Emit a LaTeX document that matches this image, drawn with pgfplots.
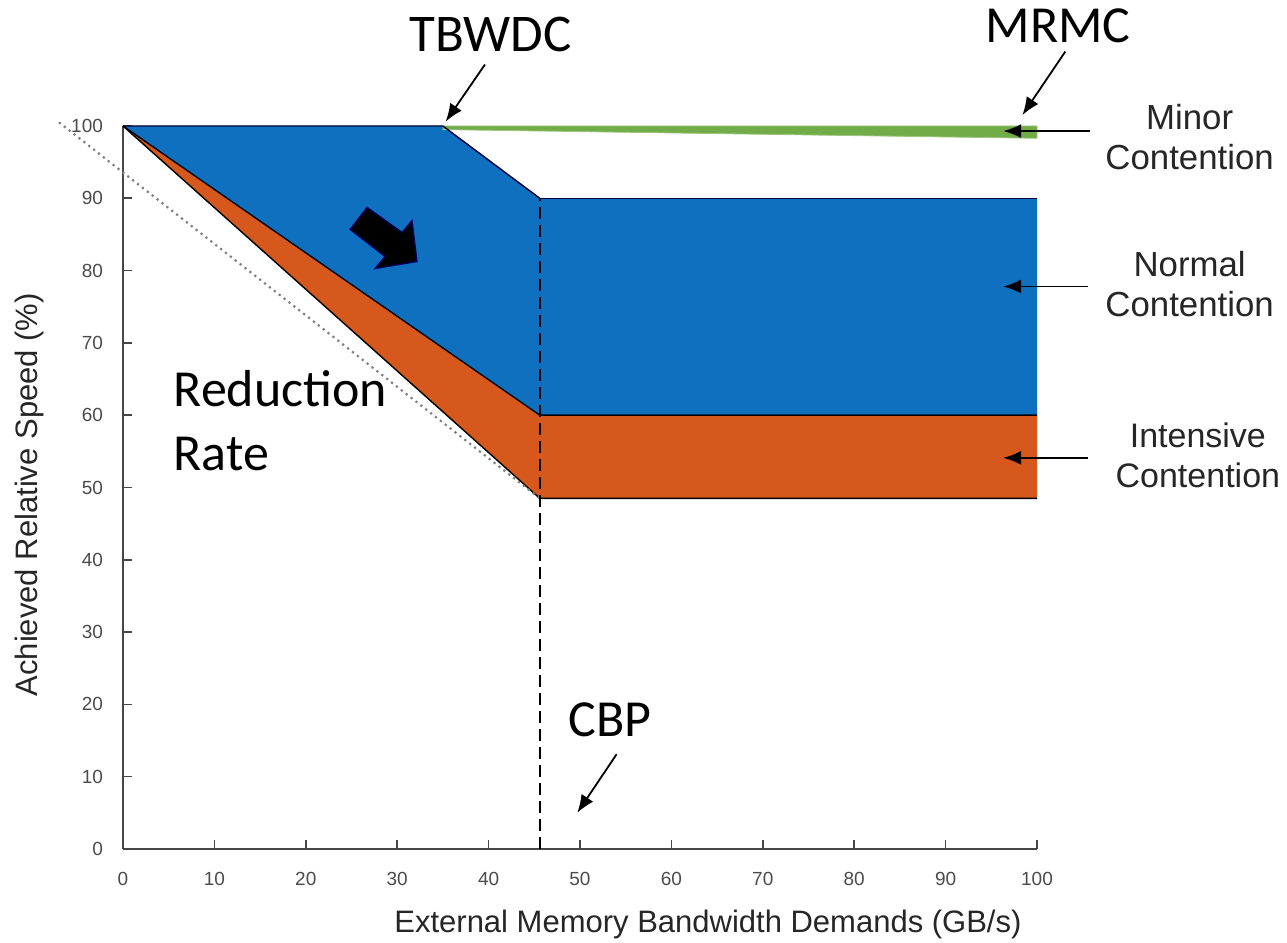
\documentclass[border=0pt]{standalone}
\usepackage{pgfplots}
\pgfplotsset{compat=1.18}
\usepackage{fontspec}
\setmainfont{Liberation Sans}
\newfontfamily\calfont{Carlito}
\usetikzlibrary{arrows.meta}
\definecolor{cblue}{RGB}{16,112,192}
\definecolor{corange}{RGB}{214,88,28}
\definecolor{cgreen}{RGB}{114,172,72}
\definecolor{axgray}{RGB}{70,70,70}
\definecolor{tkgray}{RGB}{75,75,75}
\begin{document}
\begin{tikzpicture}
\useasboundingbox (0,0) rectangle (643.5pt,471.5pt);
\begin{axis}[
  at={(61.5pt,47pt)}, anchor=south west,
  scale only axis, width=457pt, height=361.5pt,
  xmin=0, xmax=100, ymin=0, ymax=100,
  axis x line*=bottom, axis y line*=left,
  axis line style={axgray, line width=1pt},
  xtick={0,10,...,100}, ytick={0,10,...,100},
  tick align=inside, major tick length=4.5pt,
  tick style={axgray, line width=0.8pt},
  /pgf/number format/assume math mode=true,
  tick label style={font=\fontsize{9.5}{11}\selectfont, text=tkgray},
  xticklabel style={yshift=-8pt},
  yticklabel style={xshift=-6.5pt},
  xlabel={External Memory Bandwidth Demands (GB/s)},
  ylabel={Achieved Relative Speed (\%)},
  label style={font=\fontsize{15.5}{18}\selectfont, text=black!85},
  xlabel style={at={(axis description cs:0.64,-0.105)}, anchor=center},
  ylabel style={at={(axis description cs:-0.1018,0.49)}, anchor=center, rotate=0},
  clip=false,
]
% orange region (intensive contention)
\addplot[fill=corange, draw=none] coordinates {(0,100) (45.6,60) (100,60) (100,48.5) (45.6,48.5)} -- cycle;
% blue region (normal contention)
\addplot[fill=cblue, draw=none] coordinates {(0,100) (35,100) (45.6,90) (100,90) (100,60) (45.6,60)} -- cycle;
% green band (minor contention)
\addplot[fill=cgreen, draw=cgreen!70!white, line width=0.4pt] coordinates {(35,100) (100,100) (100,98.3) (35,99.5)} -- cycle;
% edges
\addplot[black!80!blue, line width=0.7pt] coordinates {(0,100) (35,100) (45.6,90)};
\addplot[black!70!blue, line width=0.7pt] coordinates {(45.6,90) (100,90)};
\addplot[black, line width=0.7pt] coordinates {(0,100) (45.6,60) (100,60)};
\addplot[black, line width=0.7pt] coordinates {(0,100) (45.6,48.5) (100,48.5)};
% dotted reference
\addplot[gray, dotted, line width=1.1pt] coordinates {(-7,100.5) (45.6,48.5)};
% CBP dashed line
\addplot[black, line width=1pt, dash pattern=on 6pt off 3pt] coordinates {(45.6,0) (45.6,90)};

% block arrow
\filldraw[black, draw=blue!40!black, line width=0.6pt]
  (axis cs:24.84,85.69) -- (axis cs:26.70,88.75) -- (axis cs:30.53,85.28) -- (axis cs:31.62,86.94)
  -- (axis cs:32.17,81.25) -- (axis cs:27.57,80.28) -- (axis cs:28.67,81.94) -- cycle;

% annotations
\node[font=\calfont\fontsize{26.5}{30}\selectfont] at (axis cs:40.2,112.6) {TBWDC};
\draw[-{Latex[length=9pt,width=7pt]}, line width=0.9pt] (axis cs:39.6,108.5) -- (axis cs:35.3,100.6);
\node[font=\calfont\fontsize{26}{30}\selectfont] at (axis cs:102.3,113.8) {MRMC};
\draw[-{Latex[length=9pt,width=7pt]}, line width=0.9pt] (axis cs:103.1,110.3) -- (axis cs:98.4,101.5);
\node[font=\calfont\fontsize{26}{30}\selectfont] at (axis cs:53.3,17.9) {CBP};
\draw[-{Latex[length=9pt,width=7pt]}, line width=0.9pt] (axis cs:54.0,13.1) -- (axis cs:49.7,5.0);
\node[font=\calfont\fontsize{26}{30}\selectfont, anchor=west, inner sep=0pt] at (axis cs:5.5,63.7) {Reduction};
\node[font=\calfont\fontsize{26}{30}\selectfont, anchor=west, inner sep=0pt] at (axis cs:5.5,54.6) {Rate};

\draw[-{Latex[length=9pt,width=7pt]}, line width=0.9pt] (axis cs:105.8,99.3) -- (axis cs:96.3,99.3);
\draw[-{Latex[length=9pt,width=7pt]}, line width=0.9pt] (axis cs:105.6,77.8) -- (axis cs:96.3,77.8);
\draw[-{Latex[length=9pt,width=7pt]}, line width=0.9pt] (axis cs:105.6,54.1) -- (axis cs:96.3,54.1);

\node[align=center, font=\fontsize{17.4}{20}\selectfont, text=black!85] at (axis cs:116.7,98.5) {Minor\\Contention};
\node[align=center, font=\fontsize{17.4}{20}\selectfont, text=black!85] at (axis cs:116.7,78.1) {Normal\\Contention};
\node[align=center, font=\fontsize{17}{20}\selectfont, text=black!85] at (axis cs:117.6,54.5) {Intensive\\Contention};
\end{axis}
\end{tikzpicture}
\end{document}
